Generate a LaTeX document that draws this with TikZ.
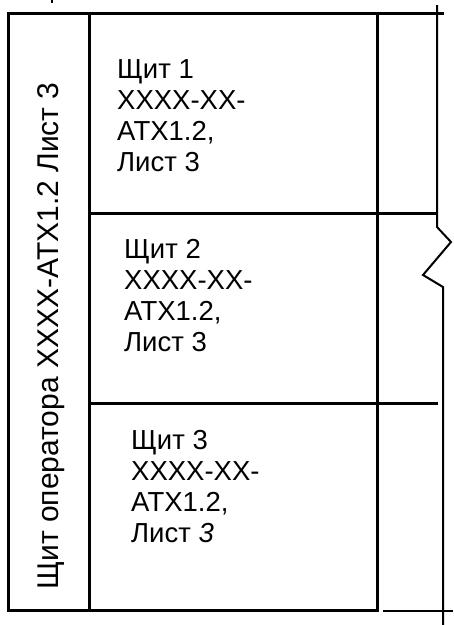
\documentclass[tikz,border=0pt]{standalone}
\usepackage{fontspec}
\setmainfont{Liberation Sans}
\begin{document}
\begin{tikzpicture}[x=1pt,y=-1pt,
  thick line/.style={line width=3pt},
  thin line/.style={line width=2pt},
  txt/.style={font=\fontsize{27.5}{31}\selectfont, anchor=base west, inner sep=0pt}]
\useasboundingbox (0,0) rectangle (454,625);
% coordinates
\coordinate (tl) at (8,13);
\coordinate (br) at (377,610);
\coordinate (dtop) at (89,13);
\coordinate (dbot) at (89,610);
\coordinate (toprt) at (444,13);
\coordinate (h1l) at (89,213);
\coordinate (h1r) at (437,213);
\coordinate (h2l) at (89,403);
\coordinate (h2r) at (438,403);
\coordinate (v1) at (437,5);
\coordinate (z0) at (437,227);
\coordinate (z1) at (451,242);
\coordinate (z2) at (423,275);
\coordinate (z3) at (443,287);
\coordinate (v2) at (443,625);
\coordinate (b1) at (383,611);
\coordinate (b2) at (453,611);
\coordinate (t1) at (52,0);
\coordinate (t2) at (52,3);
% frame
\draw[thick line] (tl) rectangle (br);
\draw[thick line] (dtop) -- (dbot);
\draw[thick line] (tl) -- (toprt);
\draw[thick line] (h1l) -- (h1r);
\draw[thick line] (h2l) -- (h2r);
\draw[thin line, line join=miter] (v1) -- (z0) -- (z1) -- (z2) -- (z3) -- (v2);
\draw[thin line] (b1) -- (b2);
\draw[line width=1.5pt] (t1) -- (t2);
% rotated label
\node[font=\fontsize{30}{34}\selectfont, anchor=base west, inner sep=0pt, rotate=90] (lbl) at (59,590) {Щит оператора XXXX-ATX1.2 Лист 3};
% block 1
\node[txt] (a1) at (117,78) {Щит 1};
\node[txt] (a2) at (117,109) {XXXX-XX-};
\node[txt] (a3) at (117,140) {ATX1.2,};
\node[txt] (a4) at (117,171) {Лист 3};
% block 2
\node[txt] (b1t) at (124,258) {Щит 2};
\node[txt] (b2t) at (124,289) {XXXX-XX-};
\node[txt] (b3t) at (124,320) {ATX1.2,};
\node[txt] (b4t) at (124,351) {Лист 3};
% block 3
\node[txt] (c1) at (131,449) {Щит 3};
\node[txt] (c2) at (131,480) {XXXX-XX-};
\node[txt] (c3) at (131,511) {ATX1.2,};
\node[txt] (c4) at (131,542) {Лист \textit{3}};
\end{tikzpicture}
\end{document}
